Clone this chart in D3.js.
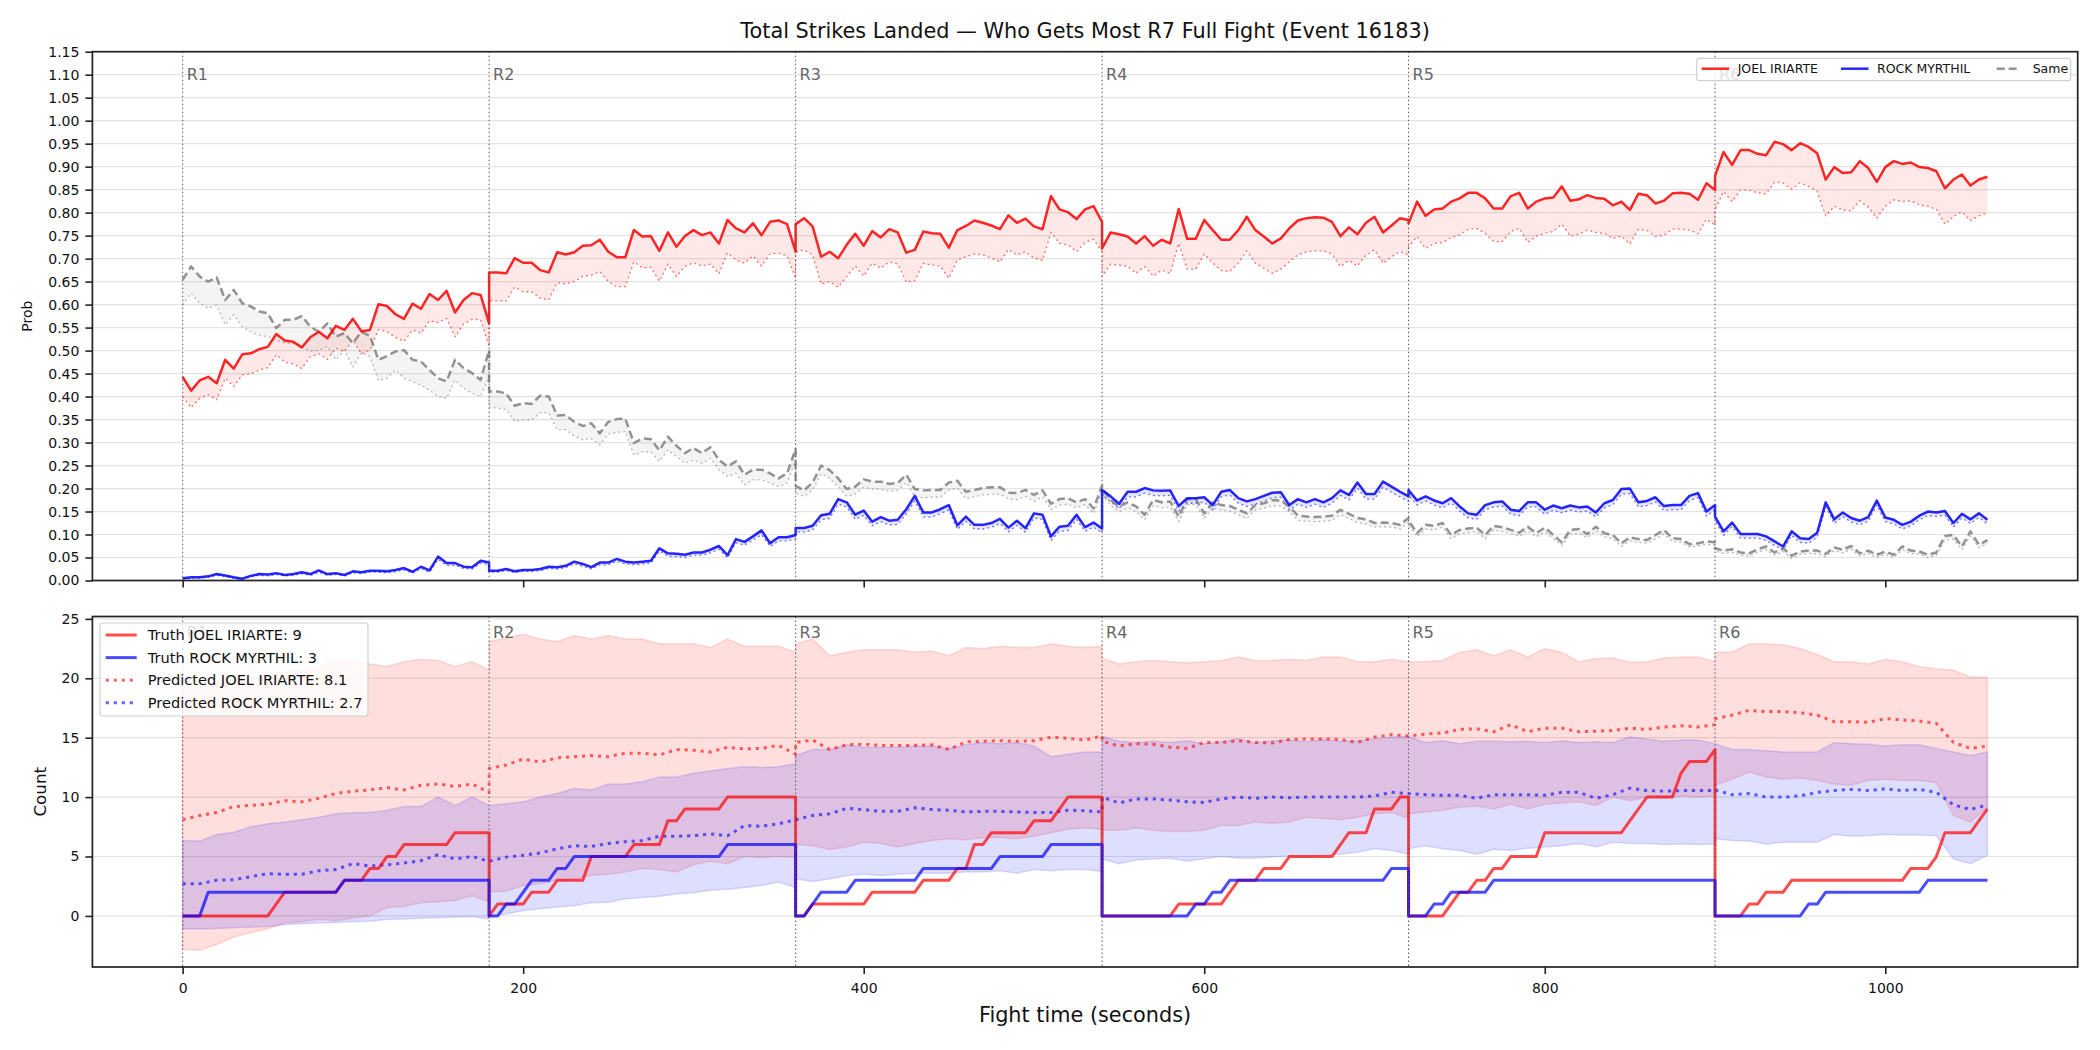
<!DOCTYPE html>
<html>
<head>
<meta charset="utf-8">
<script src="https://cdn.jsdelivr.net/npm/d3@7"></script>
<style>
  body { margin: 0; background: #fff; }
  svg { font-family: "DejaVu Sans", sans-serif; }
</style>
</head>
<body>
<svg id="chart"></svg>
<script>
//rounds of the fight
const roundStarts = [0, 180, 360, 540, 720, 900];
const roundNames = ["R1", "R2", "R3", "R4", "R5", "R6"];
const xTicks = [0, 200, 400, 600, 800, 1000];
const probStep = 5;   //seconds between probability samples
const predStep = 10;  //seconds between count samples

//win probability, one array per round
const probJoel = [
  [0.443,0.413,0.435,0.443,0.429,0.480,0.461,0.492,0.494,0.503,0.508,0.536,0.522,0.519,0.507,0.529,0.541,0.527,0.554,0.545,0.569,0.542,0.545,0.601,0.597,0.579,0.569,0.602,0.591,0.623,0.610,0.630,0.583,0.610,0.625,0.621,0.559],
  [0.670,0.670,0.668,0.701,0.691,0.691,0.675,0.670,0.714,0.709,0.714,0.728,0.729,0.741,0.715,0.703,0.703,0.762,0.748,0.749,0.717,0.757,0.726,0.749,0.762,0.751,0.757,0.733,0.784,0.766,0.757,0.777,0.751,0.780,0.783,0.775,0.715],
  [0.775,0.788,0.770,0.704,0.715,0.701,0.730,0.754,0.728,0.760,0.746,0.764,0.757,0.713,0.719,0.759,0.755,0.754,0.724,0.762,0.771,0.783,0.778,0.772,0.764,0.794,0.778,0.787,0.770,0.764,0.836,0.807,0.801,0.786,0.807,0.814,0.780],
  [0.722,0.757,0.753,0.748,0.733,0.749,0.728,0.741,0.733,0.808,0.743,0.743,0.784,0.762,0.741,0.741,0.762,0.791,0.762,0.748,0.733,0.744,0.766,0.783,0.788,0.790,0.789,0.780,0.749,0.768,0.753,0.778,0.791,0.757,0.772,0.788,0.784],
  [0.777,0.824,0.793,0.807,0.809,0.824,0.831,0.843,0.843,0.831,0.809,0.809,0.836,0.843,0.809,0.824,0.831,0.833,0.857,0.826,0.829,0.838,0.832,0.830,0.816,0.824,0.806,0.841,0.838,0.820,0.826,0.842,0.843,0.841,0.828,0.864,0.849],
  [0.880,0.932,0.904,0.936,0.936,0.928,0.925,0.954,0.949,0.936,0.951,0.943,0.929,0.872,0.899,0.886,0.888,0.912,0.897,0.867,0.899,0.912,0.906,0.909,0.899,0.897,0.890,0.853,0.872,0.883,0.859,0.872,0.878]
];
const probJoelLo = [
  [0.400,0.376,0.396,0.404,0.393,0.440,0.422,0.447,0.449,0.458,0.463,0.491,0.475,0.471,0.461,0.487,0.493,0.481,0.505,0.498,0.523,0.493,0.501,0.546,0.541,0.529,0.520,0.545,0.538,0.565,0.561,0.570,0.530,0.558,0.568,0.567,0.509],
  [0.609,0.608,0.608,0.638,0.628,0.628,0.614,0.610,0.648,0.645,0.650,0.662,0.664,0.672,0.650,0.639,0.639,0.693,0.680,0.681,0.651,0.688,0.661,0.683,0.691,0.684,0.688,0.667,0.712,0.697,0.690,0.706,0.684,0.710,0.712,0.706,0.657],
  [0.715,0.719,0.708,0.645,0.650,0.638,0.661,0.684,0.662,0.690,0.679,0.693,0.688,0.649,0.652,0.690,0.686,0.684,0.657,0.697,0.704,0.710,0.708,0.701,0.693,0.720,0.708,0.715,0.701,0.696,0.757,0.733,0.730,0.715,0.735,0.742,0.715],
  [0.661,0.688,0.686,0.683,0.668,0.683,0.662,0.675,0.668,0.733,0.677,0.677,0.710,0.690,0.674,0.672,0.690,0.717,0.690,0.679,0.668,0.677,0.693,0.708,0.715,0.717,0.717,0.710,0.683,0.696,0.684,0.708,0.719,0.690,0.704,0.715,0.708],
  [0.726,0.748,0.722,0.733,0.735,0.746,0.751,0.764,0.766,0.755,0.737,0.737,0.759,0.766,0.735,0.749,0.755,0.759,0.775,0.749,0.753,0.762,0.757,0.755,0.744,0.749,0.732,0.764,0.761,0.748,0.751,0.764,0.764,0.762,0.754,0.786,0.773],
  [0.806,0.846,0.824,0.849,0.849,0.843,0.841,0.867,0.864,0.851,0.865,0.857,0.846,0.793,0.814,0.806,0.804,0.826,0.812,0.788,0.814,0.828,0.824,0.826,0.817,0.814,0.807,0.775,0.791,0.802,0.783,0.793,0.799]
];
const probRock = [
  [0.005,0.007,0.007,0.009,0.014,0.011,0.007,0.004,0.010,0.014,0.013,0.016,0.012,0.014,0.018,0.014,0.022,0.014,0.016,0.012,0.020,0.018,0.021,0.021,0.020,0.023,0.027,0.019,0.030,0.022,0.052,0.038,0.038,0.030,0.029,0.043,0.039],
  [0.021,0.021,0.025,0.020,0.023,0.023,0.025,0.030,0.029,0.032,0.041,0.036,0.029,0.039,0.039,0.047,0.041,0.039,0.041,0.043,0.070,0.059,0.058,0.056,0.061,0.061,0.067,0.075,0.055,0.090,0.084,0.096,0.109,0.081,0.094,0.094,0.099],
  [0.114,0.114,0.119,0.142,0.145,0.177,0.170,0.143,0.152,0.128,0.138,0.130,0.132,0.155,0.184,0.148,0.148,0.155,0.164,0.120,0.139,0.121,0.121,0.125,0.134,0.115,0.130,0.114,0.146,0.143,0.096,0.117,0.119,0.143,0.116,0.126,0.113],
  [0.197,0.183,0.167,0.193,0.193,0.201,0.196,0.195,0.196,0.162,0.179,0.179,0.181,0.164,0.193,0.197,0.179,0.172,0.177,0.184,0.191,0.192,0.164,0.177,0.170,0.177,0.170,0.179,0.196,0.186,0.213,0.188,0.188,0.215,0.204,0.193,0.183],
  [0.197,0.174,0.183,0.174,0.168,0.179,0.161,0.146,0.143,0.164,0.170,0.172,0.154,0.151,0.170,0.170,0.154,0.163,0.157,0.163,0.159,0.161,0.148,0.168,0.175,0.199,0.200,0.170,0.173,0.181,0.162,0.164,0.164,0.184,0.190,0.150,0.164],
  [0.139,0.107,0.126,0.101,0.101,0.101,0.096,0.085,0.074,0.107,0.092,0.090,0.104,0.170,0.133,0.148,0.136,0.130,0.138,0.174,0.137,0.132,0.121,0.128,0.141,0.150,0.148,0.151,0.125,0.145,0.133,0.146,0.132]
];
const probRockLo = [
  [0.003,0.005,0.005,0.007,0.011,0.009,0.005,0.002,0.008,0.011,0.010,0.013,0.010,0.011,0.015,0.011,0.018,0.011,0.013,0.010,0.017,0.015,0.018,0.018,0.017,0.019,0.023,0.016,0.026,0.018,0.046,0.033,0.033,0.026,0.025,0.038,0.034],
  [0.018,0.018,0.022,0.017,0.020,0.020,0.021,0.026,0.025,0.028,0.036,0.031,0.025,0.034,0.034,0.042,0.036,0.034,0.036,0.038,0.064,0.053,0.052,0.050,0.055,0.055,0.060,0.068,0.049,0.082,0.077,0.088,0.100,0.074,0.086,0.086,0.091],
  [0.105,0.105,0.110,0.132,0.135,0.166,0.160,0.133,0.142,0.119,0.128,0.121,0.122,0.145,0.173,0.138,0.138,0.145,0.154,0.111,0.129,0.112,0.112,0.116,0.124,0.106,0.120,0.105,0.136,0.133,0.087,0.107,0.109,0.133,0.107,0.116,0.104],
  [0.186,0.172,0.156,0.182,0.182,0.190,0.185,0.184,0.185,0.151,0.168,0.168,0.170,0.153,0.182,0.186,0.168,0.161,0.166,0.173,0.180,0.181,0.153,0.166,0.159,0.166,0.159,0.168,0.185,0.175,0.201,0.177,0.177,0.203,0.192,0.182,0.172],
  [0.186,0.164,0.173,0.164,0.158,0.169,0.151,0.136,0.133,0.154,0.160,0.162,0.144,0.141,0.160,0.160,0.144,0.153,0.147,0.153,0.149,0.151,0.138,0.158,0.165,0.188,0.189,0.160,0.163,0.171,0.152,0.154,0.154,0.174,0.180,0.140,0.154],
  [0.130,0.098,0.117,0.092,0.092,0.092,0.087,0.076,0.066,0.098,0.083,0.081,0.095,0.160,0.124,0.139,0.127,0.121,0.129,0.164,0.128,0.123,0.112,0.119,0.132,0.141,0.139,0.142,0.116,0.136,0.124,0.137,0.123]
];
const probSame = [
  [0.654,0.683,0.661,0.650,0.659,0.610,0.632,0.603,0.596,0.585,0.581,0.549,0.567,0.567,0.575,0.552,0.541,0.559,0.530,0.538,0.516,0.541,0.532,0.480,0.488,0.498,0.501,0.480,0.476,0.458,0.440,0.433,0.480,0.462,0.451,0.436,0.501],
  [0.411,0.411,0.407,0.380,0.386,0.384,0.402,0.400,0.359,0.360,0.345,0.336,0.342,0.320,0.345,0.351,0.352,0.299,0.309,0.307,0.283,0.313,0.293,0.277,0.288,0.277,0.290,0.262,0.248,0.259,0.230,0.241,0.241,0.233,0.222,0.233,0.286],
  [0.206,0.196,0.213,0.250,0.240,0.222,0.199,0.204,0.220,0.215,0.215,0.210,0.212,0.230,0.199,0.196,0.197,0.197,0.213,0.217,0.193,0.197,0.201,0.203,0.203,0.191,0.190,0.197,0.186,0.196,0.167,0.177,0.179,0.170,0.177,0.157,0.206],
  [0.200,0.175,0.161,0.170,0.161,0.143,0.175,0.170,0.172,0.139,0.177,0.177,0.146,0.170,0.164,0.162,0.154,0.146,0.164,0.168,0.175,0.174,0.161,0.141,0.139,0.138,0.139,0.141,0.154,0.145,0.136,0.133,0.125,0.126,0.125,0.121,0.136],
  [0.130,0.103,0.121,0.119,0.125,0.099,0.110,0.113,0.115,0.099,0.119,0.116,0.110,0.104,0.117,0.103,0.115,0.099,0.083,0.110,0.112,0.101,0.117,0.103,0.099,0.081,0.094,0.090,0.088,0.099,0.110,0.092,0.090,0.079,0.081,0.085,0.083],
  [0.070,0.065,0.068,0.061,0.059,0.068,0.074,0.061,0.070,0.054,0.063,0.065,0.065,0.058,0.072,0.067,0.075,0.059,0.065,0.056,0.063,0.056,0.074,0.065,0.063,0.056,0.061,0.097,0.099,0.074,0.107,0.078,0.088]
];
const probSameLo = [
  [0.599,0.625,0.603,0.592,0.599,0.556,0.578,0.552,0.541,0.534,0.530,0.523,0.516,0.516,0.509,0.498,0.501,0.509,0.480,0.501,0.464,0.496,0.487,0.435,0.440,0.458,0.440,0.433,0.425,0.414,0.400,0.396,0.436,0.418,0.407,0.400,0.443],
  [0.377,0.375,0.372,0.346,0.349,0.349,0.365,0.365,0.328,0.328,0.314,0.306,0.309,0.295,0.319,0.322,0.324,0.273,0.280,0.280,0.259,0.284,0.270,0.255,0.262,0.255,0.266,0.241,0.226,0.233,0.208,0.219,0.219,0.212,0.204,0.212,0.262],
  [0.190,0.183,0.197,0.233,0.222,0.205,0.183,0.188,0.203,0.199,0.198,0.194,0.196,0.213,0.183,0.180,0.181,0.181,0.197,0.201,0.178,0.182,0.186,0.188,0.188,0.177,0.176,0.183,0.172,0.182,0.154,0.164,0.166,0.158,0.165,0.146,0.193],
  [0.188,0.163,0.150,0.158,0.150,0.132,0.163,0.158,0.160,0.128,0.165,0.165,0.135,0.158,0.153,0.151,0.143,0.135,0.153,0.157,0.163,0.162,0.150,0.131,0.129,0.128,0.129,0.131,0.143,0.135,0.126,0.123,0.116,0.117,0.116,0.112,0.126],
  [0.121,0.095,0.112,0.110,0.116,0.091,0.102,0.104,0.106,0.091,0.110,0.107,0.102,0.096,0.108,0.095,0.106,0.091,0.076,0.101,0.103,0.093,0.108,0.095,0.091,0.074,0.086,0.083,0.081,0.091,0.101,0.085,0.083,0.073,0.075,0.078,0.077],
  [0.064,0.059,0.061,0.055,0.053,0.061,0.067,0.055,0.063,0.048,0.057,0.059,0.058,0.052,0.065,0.060,0.068,0.053,0.059,0.050,0.057,0.050,0.067,0.059,0.057,0.050,0.055,0.088,0.090,0.067,0.097,0.071,0.080]
];

//predicted strike counts with band, one array per round
const predJoel = [
  [8.1,8.45,8.7,9.2,9.3,9.4,9.7,9.6,9.9,10.3,10.5,10.6,10.8,10.6,11.0,11.1,10.9,11.1,10.4],
  [12.4,12.7,13.2,12.95,13.3,13.4,13.5,13.4,13.7,13.7,13.55,14.0,13.95,13.8,14.2,14.05,14.1,14.35,13.6],
  [14.6,14.8,14.0,14.4,14.45,14.35,14.35,14.35,14.4,14.0,14.65,14.7,14.75,14.7,14.75,15.05,14.95,14.8,15.15],
  [14.7,14.3,14.5,14.45,14.2,14.1,14.6,14.6,14.75,14.6,14.55,14.85,14.9,14.9,14.85,14.6,15.05,15.25,15.15],
  [15.15,15.3,15.4,15.7,15.75,15.5,16.1,15.5,15.8,15.8,15.5,15.55,15.6,15.8,15.7,15.9,16.0,15.9,16.1],
  [16.6,16.9,17.3,17.2,17.2,17.1,16.9,16.35,16.35,16.3,16.6,16.5,16.4,16.2,14.6,14.1,14.3]
];
const predJoelHi = [
  [19.0,19.3,19.6,19.8,20.0,20.3,20.5,20.7,21.0,21.6,21.4,21.2,21.0,21.4,21.6,21.5,21.0,21.4,20.7],
  [23.1,23.4,23.7,23.3,23.1,23.6,23.3,23.6,23.3,23.3,22.9,22.9,22.9,22.6,23.3,22.7,22.7,22.7,22.2],
  [22.9,23.3,21.9,22.2,22.4,22.4,22.4,22.2,22.3,21.9,22.6,22.5,22.7,22.6,22.6,22.9,22.7,22.6,22.7],
  [21.7,21.2,21.4,21.5,21.4,21.3,21.4,21.5,21.8,21.5,21.5,21.6,21.5,21.8,21.8,21.4,21.4,21.6,21.4],
  [21.4,21.4,21.5,22.2,22.4,21.9,22.4,21.8,22.5,22.2,21.4,21.65,21.7,21.35,21.4,21.7,21.8,21.8,21.4],
  [22.2,22.2,22.9,22.9,22.8,22.5,22.0,21.4,21.4,21.2,21.6,21.4,21.0,20.8,20.7,20.1,20.1]
];
const predJoelLo = [
  [-2.8,-2.9,-2.4,-1.8,-1.4,-1.1,-0.6,-0.5,-0.3,-0.4,-0.2,0.0,0.7,0.8,1.1,1.2,1.3,1.7,1.2],
  [2.0,2.1,2.55,2.7,3.0,3.1,3.4,3.5,3.7,4.0,3.9,3.7,4.3,4.6,4.4,5.0,4.9,5.0,4.9],
  [6.0,5.9,5.6,5.8,6.2,6.1,5.8,6.1,6.35,6.5,6.4,6.6,6.6,6.5,6.7,7.0,7.3,7.4,7.3],
  [7.2,7.2,7.4,7.2,7.1,7.1,7.2,7.6,7.6,7.9,7.8,7.9,8.3,8.2,8.1,8.3,8.6,8.7,8.2],
  [8.6,8.75,8.9,9.15,9.25,9.0,9.4,9.0,9.4,9.5,9.6,9.3,10.0,9.7,10.0,9.95,10.1,10.0,10.1],
  [11.0,11.5,12.1,11.7,11.5,11.6,11.4,11.1,11.0,11.4,11.5,11.4,11.4,11.2,8.45,7.9,9.15]
];
const predRock = [
  [2.7,2.7,3.0,3.05,3.3,3.55,3.5,3.5,3.8,3.9,4.4,4.2,4.3,4.45,4.65,5.15,4.8,5.0,4.6],
  [4.6,4.95,5.1,5.3,5.65,5.9,5.85,6.1,6.25,6.35,6.7,6.7,6.75,6.9,6.75,7.6,7.55,7.75,8.1],
  [8.1,8.45,8.6,9.05,8.95,8.8,8.8,9.1,8.95,8.9,8.75,8.8,8.8,8.75,8.7,8.7,8.9,8.85,8.75],
  [10.0,9.5,9.85,9.85,9.75,9.6,9.55,9.85,10.0,9.9,10.0,9.95,10.0,10.0,10.0,10.0,10.1,10.4,10.3],
  [10.3,10.2,10.15,10.15,9.9,10.2,10.2,10.2,10.15,10.4,10.4,9.9,10.2,10.75,10.55,10.5,10.55,10.55,10.55],
  [10.6,10.2,10.3,10.0,10.0,10.1,10.4,10.55,10.65,10.55,10.7,10.55,10.65,10.4,9.35,8.95,9.35]
];
const predRockHi = [
  [6.35,6.3,6.85,7.05,7.5,7.75,7.9,8.1,8.3,8.6,8.7,8.7,8.9,9.2,9.2,10.0,9.3,10.0,9.3],
  [9.3,9.45,9.6,10.0,10.3,10.75,10.6,11.1,11.1,11.3,11.7,11.7,12.0,12.2,12.4,12.55,12.5,12.55,12.8],
  [13.5,14.0,14.0,14.4,14.2,14.2,14.2,14.3,14.3,14.1,14.4,14.6,14.5,14.6,14.3,13.4,13.6,13.8,13.8],
  [15.1,14.7,14.6,14.7,14.6,14.75,14.5,14.65,14.9,14.55,14.75,14.8,14.65,14.85,14.7,14.75,14.9,15.05,15.1],
  [15.1,14.6,14.75,14.5,14.7,14.7,14.65,14.7,14.6,14.75,14.6,14.65,14.6,15.05,14.9,14.7,14.8,14.8,14.5],
  [14.5,14.0,14.0,13.9,13.8,13.8,13.8,14.6,14.5,14.45,14.3,14.4,14.4,14.1,13.8,13.5,13.8]
];
const predRockLo = [
  [-1.1,-1.1,-1.05,-1.0,-0.95,-0.9,-0.75,-0.65,-0.6,-0.55,-0.5,-0.45,-0.3,-0.25,-0.2,-0.15,-0.1,-0.05,-0.25],
  [0.0,0.15,0.45,0.6,0.75,0.85,1.1,1.15,1.45,1.55,1.65,1.85,1.95,2.15,2.25,2.4,2.55,2.85,2.4],
  [3.1,2.9,3.1,3.4,3.5,3.4,3.5,3.6,3.6,3.6,3.7,3.7,3.8,3.6,3.9,3.8,3.9,3.9,3.75],
  [4.8,4.4,4.7,4.8,4.85,4.6,4.8,5.0,4.85,4.85,4.95,5.05,5.0,5.1,5.2,5.35,5.65,5.5,5.2],
  [5.65,5.9,5.65,5.5,5.2,5.6,5.5,5.7,5.8,5.9,6.1,5.8,6.2,6.1,6.1,6.0,6.05,6.0,6.05],
  [6.5,6.35,6.3,6.05,6.2,6.2,6.2,6.85,6.7,6.75,6.85,6.8,6.8,6.75,4.8,4.4,5.1]
];

//actual landed strikes, [seconds, count] corners, count restarts every round
const truthJoel = [
  [[0,0],[50,0],[60,2],[90,2],[95,3],[105,3],[110,4],[115,4],[120,5],[125,5],[130,6],[155,6],[160,7],[180,7]],
  [[180,0],[185,1],[200,1],[205,2],[215,2],[220,3],[235,3],[240,5],[260,5],[265,6],[280,6],[285,8],[290,8],[295,9],[315,9],[320,10],[360,10]],
  [[360,0],[365,0],[370,1],[400,1],[405,2],[430,2],[435,3],[450,3],[455,4],[460,4],[465,6],[470,6],[475,7],[495,7],[500,8],[510,8],[520,10],[540,10]],
  [[540,0],[580,0],[585,1],[610,1],[620,3],[630,3],[635,4],[645,4],[650,5],[675,5],[685,7],[695,7],[700,9],[710,9],[715,10],[720,10]],
  [[720,0],[740,0],[750,2],[755,2],[760,3],[765,3],[770,4],[775,4],[780,5],[795,5],[800,7],[845,7],[860,10],[875,10],[880,12],[885,13],[895,13],[900,14]],
  [[900,0],[915,0],[920,1],[925,1],[930,2],[940,2],[945,3],[1010,3],[1015,4],[1025,4],[1030,5],[1035,7],[1050,7],[1060,9]]
];
const truthRock = [
  [[0,0],[10,0],[15,2],[90,2],[95,3],[180,3]],
  [[180,0],[185,0],[190,1],[195,1],[205,3],[215,3],[220,4],[225,4],[230,5],[315,5],[320,6],[360,6]],
  [[360,0],[365,0],[375,2],[390,2],[395,3],[430,3],[435,4],[475,4],[480,5],[505,5],[510,6],[540,6]],
  [[540,0],[590,0],[595,1],[600,1],[605,2],[610,2],[615,3],[705,3],[710,4],[720,4]],
  [[720,0],[730,0],[735,1],[740,1],[745,2],[765,2],[770,3],[900,3]],
  [[900,0],[950,0],[955,1],[960,1],[965,2],[1020,2],[1025,3],[1060,3]]
];

//layout
const width = 2100, height = 1050;
const left = 92.4, right = 2077.7;
const top1 = 51.7, bot1 = 580.5;
const top2 = 616.5, bot2 = 967;

const svg = d3.select("#chart").attr("width", width).attr("height", height);

const x = d3.scaleLinear().domain([-53, 1113]).range([left, right]);
const yP = d3.scaleLinear().domain([0, 1.15]).range([bot1, top1]);
const yC = d3.scaleLinear().domain([-4.3, 25.2]).range([bot2, top2]);

//turn per-round arrays into [time, value] points
function flatten(rounds, step) {
  const out = [];
  rounds.forEach((vals, r) => vals.forEach((v, i) => out.push([roundStarts[r] + i * step, v])));
  return out;
}
function zipBand(hi, lo, step) {
  const a = flatten(hi, step), b = flatten(lo, step);
  return a.map((d, i) => ({ t: d[0], hi: d[1], lo: b[i][1] }));
}

function drawBand(g, y, hi, lo, step, fill, edge) {
  const area = d3.area().x(d => x(d.t)).y0(d => y(d.lo)).y1(d => y(d.hi));
  g.append("path").datum(zipBand(hi, lo, step))
    .attr("d", area).attr("fill", fill)
    .attr("stroke", edge || "none").attr("stroke-width", 1.5);
}
function drawLine(g, y, pts, color, w, dash) {
  const line = d3.line().x(d => x(d[0])).y(d => y(d[1]));
  g.append("path").datum(pts).attr("d", line)
    .attr("fill", "none").attr("stroke", color).attr("stroke-width", w)
    .attr("stroke-dasharray", dash || null).attr("stroke-linejoin", "round");
}

//gridlines, axes and round markers for a panel
function frame(y, y0, y1, ticks, fmt, showX) {
  const g = svg.append("g");
  g.selectAll(".grid").data(ticks).join("line")
    .attr("x1", left).attr("x2", right)
    .attr("y1", d => y(d)).attr("y2", d => y(d))
    .attr("stroke", "#e3e3e3").attr("stroke-width", 1.2);
  svg.append("g").attr("transform", `translate(${left},0)`)
    .call(d3.axisLeft(y).tickValues(ticks).tickFormat(fmt).tickSize(7).tickPadding(6))
    .call(a => a.select(".domain").remove())
    .call(a => a.selectAll("line").attr("stroke", "#222").attr("stroke-width", 1.6))
    .call(a => a.selectAll("text").attr("font-size", 14).attr("fill", "#111").attr("font-family", "DejaVu Sans"));
  svg.append("g").attr("transform", `translate(0,${y0})`)
    .call(d3.axisBottom(x).tickValues(xTicks).tickFormat(showX ? d3.format("d") : "").tickSize(7).tickPadding(9))
    .call(a => a.select(".domain").remove())
    .call(a => a.selectAll("line").attr("stroke", "#222").attr("stroke-width", 1.6))
    .call(a => a.selectAll("text").attr("font-size", 14).attr("fill", "#111").attr("font-family", "DejaVu Sans"));
  return g;
}
function rounds(y, y0, y1, ymax) {
  svg.append("g").selectAll("line").data(roundStarts).join("line")
    .attr("x1", d => x(d)).attr("x2", d => x(d)).attr("y1", y1).attr("y2", y0)
    .attr("stroke", "#555").attr("stroke-width", 1).attr("stroke-dasharray", "1.5,2.5");
  svg.append("g").selectAll("text").data(roundStarts).join("text")
    .attr("x", d => x(d) + 4).attr("y", y(ymax * 0.97) + 12.5)
    .attr("font-size", 16).attr("fill", "#666")
    .text((d, i) => roundNames[i]);
}
function spine(y0, y1) {
  svg.append("rect").attr("x", left).attr("y", y1).attr("width", right - left).attr("height", y0 - y1)
    .attr("fill", "none").attr("stroke", "#222").attr("stroke-width", 1.7);
}

//---- top panel: probabilities ----
const pTicks = d3.range(0, 24).map(i => i * 0.05);
frame(yP, bot1, top1, pTicks, d3.format(".2f"), false);
const gp = svg.append("g");
drawBand(gp, yP, probJoel, probJoelLo, probStep, "rgba(255,0,0,0.09)");
drawBand(gp, yP, probSame, probSameLo, probStep, "rgba(128,128,128,0.09)");
drawBand(gp, yP, probRock, probRockLo, probStep, "rgba(0,0,255,0.1)");
drawLine(gp, yP, flatten(probJoelLo, probStep), "rgba(255,0,0,0.55)", 1.3, "2,3");
drawLine(gp, yP, flatten(probSameLo, probStep), "rgba(128,128,128,0.55)", 1.3, "2,3");
drawLine(gp, yP, flatten(probRockLo, probStep), "rgba(0,0,255,0.55)", 1.3, "2,3");
drawLine(gp, yP, flatten(probSame, probStep), "rgba(128,128,128,0.85)", 2.5, "8,4");
drawLine(gp, yP, flatten(probJoel, probStep), "rgba(255,0,0,0.85)", 2.5);
drawLine(gp, yP, flatten(probRock, probStep), "rgba(0,0,255,0.85)", 2.5);
rounds(yP, bot1, top1, 1.15);
spine(bot1, top1);

//---- bottom panel: counts ----
frame(yC, bot2, top2, [0, 5, 10, 15, 20, 25], d3.format("d"), true);
const gc = svg.append("g");
drawBand(gc, yC, predJoelHi, predJoelLo, predStep, "rgba(255,0,0,0.13)", "rgba(255,0,0,0.13)");
drawBand(gc, yC, predRockHi, predRockLo, predStep, "rgba(0,0,255,0.13)", "rgba(0,0,255,0.13)");
drawLine(gc, yC, flatten(predJoel, predStep), "rgba(255,0,0,0.6)", 3, "3.2,4.8");
drawLine(gc, yC, flatten(predRock, predStep), "rgba(0,0,255,0.6)", 3, "3.2,4.8");
drawLine(gc, yC, truthJoel.flat(), "rgba(255,0,0,0.7)", 3);
drawLine(gc, yC, truthRock.flat(), "rgba(0,0,255,0.7)", 3);
rounds(yC, bot2, top2, 25.2);
spine(bot2, top2);

//---- labels ----
svg.append("text").attr("x", (left + right) / 2).attr("y", 38).attr("text-anchor", "middle")
  .attr("font-size", 20.8).attr("fill", "#111")
  .text("Total Strikes Landed \u2014 Who Gets Most R7 Full Fight (Event 16183)");
svg.append("text").attr("x", (left + right) / 2).attr("y", 1022).attr("text-anchor", "middle")
  .attr("font-size", 20.8).attr("fill", "#111").text("Fight time (seconds)");
svg.append("text").attr("transform", `translate(32,${(top1 + bot1) / 2}) rotate(-90)`)
  .attr("text-anchor", "middle").attr("font-size", 14).attr("fill", "#111").text("Prob");
svg.append("text").attr("transform", `translate(46,${(top2 + bot2) / 2}) rotate(-90)`)
  .attr("text-anchor", "middle").attr("font-size", 16.7).attr("fill", "#111").text("Count");

//---- legends ----
function legendBox(x0, y0, w, h) {
  svg.append("rect").attr("x", x0).attr("y", y0).attr("width", w).attr("height", h).attr("rx", 3)
    .attr("fill", "rgba(255,255,255,0.8)").attr("stroke", "#d0d0d0").attr("stroke-width", 1.2);
}
const topLegend = [
  { label: "JOEL IRIARTE", color: "rgba(255,0,0,0.85)", dash: null, x: 1701.7 },
  { label: "ROCK MYRTHIL", color: "rgba(0,0,255,0.85)", dash: null, x: 1841 },
  { label: "Same", color: "rgba(128,128,128,0.85)", dash: "8,4", x: 1996.7, w: 22 }
];
legendBox(1696.7, 58.3, 374, 22.4);
topLegend.forEach(d => {
  const w = d.w || 27.5;
  svg.append("line").attr("x1", d.x).attr("x2", d.x + w).attr("y1", 68.7).attr("y2", 68.7)
    .attr("stroke", d.color).attr("stroke-width", 2.5).attr("stroke-dasharray", d.dash);
  svg.append("text").attr("x", d.x + w + (d.w ? 14 : 8.5)).attr("y", 73.2)
    .attr("font-size", 12.5).attr("fill", "#111").text(d.label);
});

const botLegend = [
  { label: "Truth JOEL IRIARTE: 9", color: "rgba(255,0,0,0.7)", dash: null },
  { label: "Truth ROCK MYRTHIL: 3", color: "rgba(0,0,255,0.7)", dash: null },
  { label: "Predicted JOEL IRIARTE: 8.1", color: "rgba(255,0,0,0.6)", dash: "3.2,4.8" },
  { label: "Predicted ROCK MYRTHIL: 2.7", color: "rgba(0,0,255,0.6)", dash: "3.2,4.8" }
];
legendBox(100, 623, 268, 93);
botLegend.forEach((d, i) => {
  const cy = 635 + i * 22.6;
  svg.append("line").attr("x1", 105.7).attr("x2", 136.7).attr("y1", cy).attr("y2", cy)
    .attr("stroke", d.color).attr("stroke-width", 3).attr("stroke-dasharray", d.dash);
  svg.append("text").attr("x", 147.7).attr("y", cy + 5.2)
    .attr("font-size", 14.6).attr("fill", "#111").text(d.label);
});
</script>
</body>
</html>
